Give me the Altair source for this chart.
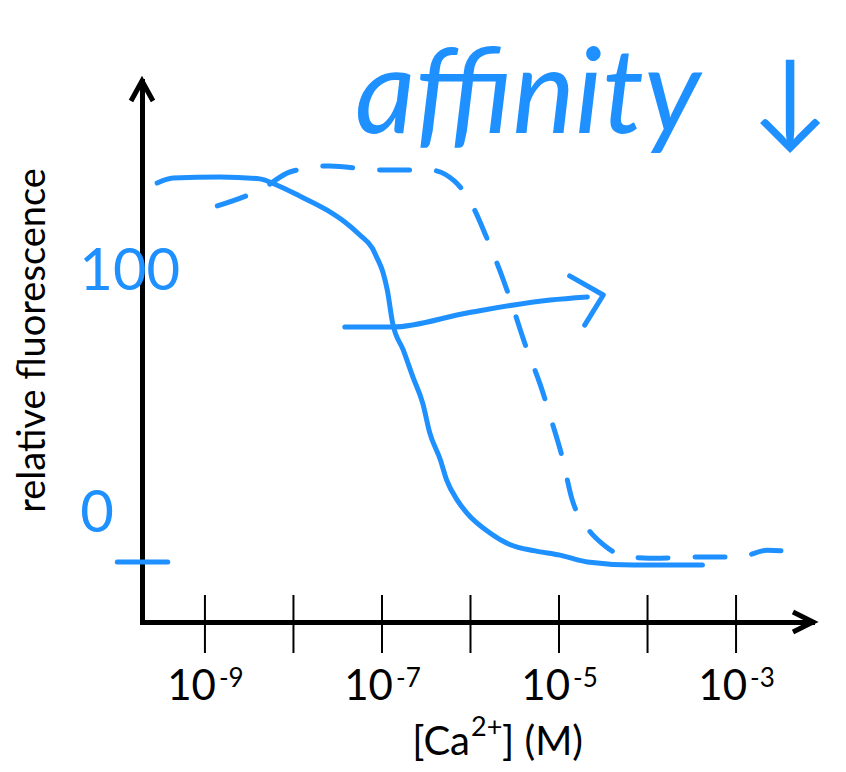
import altair as alt
import pandas as pd

# ---- data (x = log10[Ca2+], y = relative fluorescence) ----
solid_x = [-9.54, -9.36, -8.83, -8.38, -8.19, -7.93, -7.62, -7.42, -7.25, -7.11, -7.06, -6.99,
           -6.94, -6.88, -6.76, -6.65, -6.54, -6.46, -6.34, -6.27, -6.15, -6.04, -5.78, -5.55,
           -5.27, -4.99, -4.68, -4.16, -3.38]
solid_y = [99.2, 100.5, 100.8, 100.3, 98.7, 95.8, 92.1, 89.0, 85.6, 82.2, 79.8, 75.9,
           71.2, 62.6, 55.5, 48.4, 41.6, 33.8, 26.7, 21.5, 16.2, 12.8, 7.6, 4.5,
           2.9, 1.8, 0.0, -0.8, -0.8]

dashed_x = [-8.86, -8.34, -8.04, -7.59, -7.02, -6.46, -6.18, -5.97, -5.83, -5.67, -5.53, -5.38,
            -5.21, -5.07, -4.97, -4.85, -4.68, -4.48, -4.23, -3.86, -3.41, -2.96, -2.65, -2.36]
dashed_y = [93.2, 97.9, 102.1, 103.7, 102.6, 102.6, 99.7, 92.9, 85.6, 76.4, 67.3, 56.8,
            46.3, 35.9, 28.0, 16.2, 8.9, 4.2, 1.3, 1.0, 1.3, 1.3, 3.1, 2.6]

arrow_x = [-7.42, -6.88, -6.04, -5.10, -4.68]
arrow_y = [61.5, 61.5, 65.2, 68.6, 69.4]
head_x = [-4.88, -4.50, -4.71]
head_y = [74.9, 69.9, 62.0]

tick_exps = [-9, -8, -7, -6, -5, -4, -3]
label_exps = [-9, -7, -5, -3]
label_sup = ["-9", "-7", "-5", "-3"]

zero_tick_x = [-9.99]
zero_tick_x2 = [-9.42]
zero_tick_y = [0]

hand_labels = ["100", "0"]
hand_x = [-9.85, -10.22]
hand_y = [71.2, 7.9]

x_title_parts = ["[Ca", "2+", "] (M)"]

BLUE = "#1e90ff"
FONT = "Lato"

# ---- scales / shared encodings ----
xs = alt.Scale(domain=[-9.711, -2.142], nice=False, zero=False)
ys = alt.Scale(domain=[-15.71, 125.92], nice=False, zero=False)

x_axis = alt.Axis(domain=True, domainColor="black", domainWidth=5, domainCap="square",
                  ticks=False, labels=False, grid=False, title="")
y_axis = alt.Axis(domain=True, domainColor="black", domainWidth=5, domainCap="square",
                  ticks=False, labels=False, grid=False,
                  title="relative fluorescence", titleFont=FONT, titleFontSize=38,
                  titleFontWeight="normal", titleColor="black", titleX=-98, titleY=259,
                  titleAlign="center", titleBaseline="alphabetic")

X = alt.X("x:Q", scale=xs, axis=x_axis)
Y = alt.Y("y:Q", scale=ys, axis=y_axis)

solid_df = pd.DataFrame({"x": solid_x, "y": solid_y})
dashed_df = pd.DataFrame({"x": dashed_x, "y": dashed_y})
arrow_df = pd.DataFrame({"x": arrow_x, "y": arrow_y})
head_df = pd.DataFrame({"x": head_x, "y": head_y})
ticks_df = pd.DataFrame({"x": tick_exps})
labels_df = pd.DataFrame({"x": label_exps, "sup": label_sup, "base": ["10"] * len(label_exps)})
zero_df = pd.DataFrame({"x": zero_tick_x, "x2": zero_tick_x2, "y": zero_tick_y})
hand_df = pd.DataFrame({"x": hand_x, "y": hand_y, "t": hand_labels})
note_df = pd.DataFrame({"x": [-7.305], "y": [112.3], "t": ["affinity"]})
down_df = pd.DataFrame({"x": [-2.39], "y": [111.8], "t": ["↓"]})
one_df = pd.DataFrame({"x": [0]})
t1_df = pd.DataFrame({"t": [x_title_parts[0]]})
t2_df = pd.DataFrame({"t": [x_title_parts[1]]})
t3_df = pd.DataFrame({"t": [x_title_parts[2]]})

solid = alt.Chart(solid_df).mark_line(color=BLUE, strokeWidth=5, strokeCap="round",
                                      interpolate="monotone").encode(x=X, y=Y)
dashed = alt.Chart(dashed_df).mark_line(color=BLUE, strokeWidth=5, strokeCap="round",
                                        strokeDash=[30, 27], interpolate="monotone").encode(x=X, y=Y)
arrow = alt.Chart(arrow_df).mark_line(color=BLUE, strokeWidth=5, strokeCap="round",
                                      interpolate="monotone").encode(x=X, y=Y, order=alt.Order("x:Q"))
head = alt.Chart(head_df).mark_line(color=BLUE, strokeWidth=5, strokeCap="round",
                                    strokeJoin="round").encode(x=X, y=Y, order=alt.Order("y:Q", sort="descending"))

ticks = alt.Chart(ticks_df).mark_rule(color="black", strokeWidth=2).encode(
    x=X, y=alt.value(514), y2=alt.value(572))

lab_base = alt.Chart(labels_df).mark_text(font=FONT, fontSize=42, color="black", align="right",
                                          baseline="alphabetic", dx=11).encode(
    x=X, y=alt.value(619), text="base:N")
lab_sup = alt.Chart(labels_df).mark_text(font=FONT, fontSize=26, color="black", align="left",
                                         baseline="alphabetic", dx=14).encode(
    x=X, y=alt.value(606), text="sup:N")

# x-axis title, built from three pieces so that the superscript matches
title1 = alt.Chart(t1_df).mark_text(font=FONT, fontSize=40, color="black", align="right",
                                    baseline="alphabetic").encode(
    x=alt.value(328), y=alt.value(674), text="t:N")
title2 = alt.Chart(t2_df).mark_text(font=FONT, fontSize=27, color="black", align="left",
                                    baseline="alphabetic").encode(
    x=alt.value(329), y=alt.value(655), text="t:N")
title3 = alt.Chart(t3_df).mark_text(font=FONT, fontSize=40, color="black", align="left",
                                    baseline="alphabetic").encode(
    x=alt.value(360), y=alt.value(674), text="t:N")

y_arrow = alt.Chart(one_df).mark_point(shape="M -1.1 2 L 0 0 L 1.1 2", size=400, filled=False,
                                       color="black", strokeWidth=5, opacity=1,
                                       strokeJoin="miter").encode(
    x=alt.value(0), y=alt.value(0))
x_arrow = alt.Chart(one_df).mark_point(shape="M -2 -1 L 0 0 L -2 1", size=400, filled=False,
                                       color="black", strokeWidth=5, opacity=1,
                                       strokeJoin="miter").encode(
    x=alt.value(671), y=alt.value(541))

zero_tick = alt.Chart(zero_df).mark_rule(color=BLUE, strokeWidth=5, strokeCap="round").encode(
    x=X, x2="x2:Q", y=Y)
hand = alt.Chart(hand_df).mark_text(font=FONT, fontSize=58, color=BLUE, align="center",
                                    baseline="alphabetic").encode(x=X, y=Y, text="t:N")
note = alt.Chart(note_df).mark_text(font=FONT, fontSize=118, fontStyle="italic", color=BLUE,
                                    align="left", baseline="alphabetic").encode(x=X, y=Y, text="t:N")
down = alt.Chart(down_df).mark_text(font=FONT, fontSize=105, color=BLUE,
                                    align="center", baseline="alphabetic").encode(x=X, y=Y, text="t:N")

chart = alt.layer(
    ticks, solid, dashed, arrow, head, lab_base, lab_sup, title1, title2, title3,
    y_arrow, x_arrow, zero_tick, hand, note, down
).properties(
    width=670, height=541,
    padding={"left": 134, "top": 73, "right": 26, "bottom": 142},
    autosize=alt.AutoSizeParams(type="none"),
).configure_view(stroke=None)

chart.save("out.html", embed_options={"renderer": "svg", "actions": False})
